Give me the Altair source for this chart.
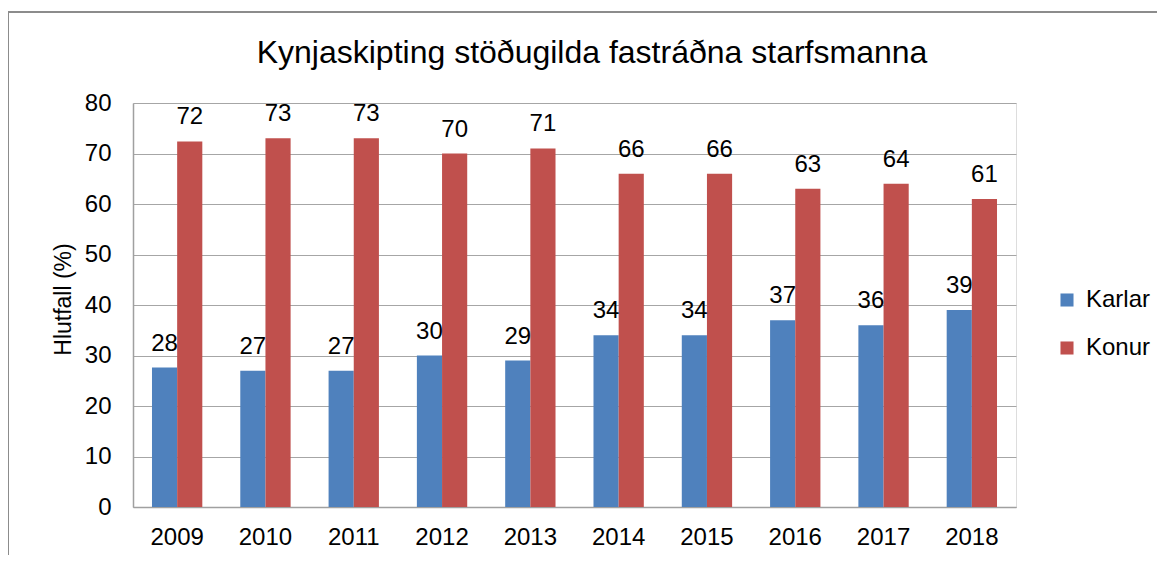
import altair as alt
import pandas as pd

title_text = "Kynjaskipting stöðugilda fastráðna starfsmanna"
years = ["2009", "2010", "2011", "2012", "2013", "2014", "2015", "2016", "2017", "2018"]
karlar = [27.6, 27, 27, 30, 29, 34, 34, 37, 36, 39]
konur = [72.4, 73, 73, 70, 71, 66, 66, 63, 64, 61]
series = ["Karlar", "Konur"]
colors = ["#4F81BD", "#C0504D"]

rows = []
for i, y in enumerate(years):
    rows.append({"year": y, "series": "Karlar", "value": karlar[i]})
    rows.append({"year": y, "series": "Konur", "value": konur[i]})
df = pd.DataFrame(rows)

FONT = "Liberation Sans"
W, H = 883, 404

base = alt.Chart(df).encode(
    x=alt.X("year:N", sort=years,
            scale=alt.Scale(paddingInner=0.43, paddingOuter=0.215),
            axis=alt.Axis(title=None, labelAngle=0, labelFontSize=24, labelFont=FONT,
                          labelColor="#000000", labelPadding=18, ticks=False,
                          domainColor="#A0A0A0", domainWidth=1.5, grid=False)),
    xOffset=alt.XOffset("series:N", sort=series),
)

bars = base.mark_bar().encode(
    y=alt.Y("value:Q", scale=alt.Scale(domain=[0, 80], nice=False),
            axis=alt.Axis(title="Hlutfall (%)", values=list(range(0, 81, 10)),
                          labelFontSize=24, labelFont=FONT, labelColor="#000000",
                          labelPadding=22, ticks=False, domainColor="#A0A0A0",
                          domainWidth=1.5, gridColor="#A6A6A6", gridWidth=1.2,
                          titleFontSize=23, titleFont=FONT, titleFontWeight="normal",
                          titleColor="#000000", titlePadding=9, titleY=196)),
    color=alt.Color("series:N", sort=series,
                    scale=alt.Scale(domain=series, range=colors),
                    legend=alt.Legend(title=None, orient="none", legendX=922, legendY=185,
                                      symbolType="square", symbolSize=170,
                                      symbolStrokeWidth=0, labelFontSize=24,
                                      labelFont=FONT, labelColor="#000000",
                                      rowPadding=24, labelOffset=7)),
)

labels = base.mark_text(fontSize=24, font=FONT, color="#000000",
                        baseline="alphabetic", dy=-17).encode(
    y=alt.Y("value:Q"),
    text=alt.Text("value:Q", format=".0f"),
)

one = pd.DataFrame({"title": [title_text]})

border = alt.Chart(one).mark_rect(
    fillOpacity=0, stroke="#8C8C8C", strokeWidth=2
).encode(
    x=alt.value(-125), x2=alt.value(1027), y=alt.value(-91), y2=alt.value(470)
)

title = alt.Chart(one).mark_text(
    fontSize=32, font=FONT, color="#000000", baseline="alphabetic", align="center"
).encode(
    x=alt.value(459), y=alt.value(-40), text="title:N"
)

chart = alt.layer(border, title, bars, labels).properties(
    width=W, height=H,
    autosize=alt.AutoSizeParams(type="none"),
    padding={"left": 125, "top": 95, "right": 141, "bottom": 48},
).configure_view(strokeWidth=0).configure(background="white")

chart.save("out.html", embed_options={"renderer": "svg", "actions": False})
